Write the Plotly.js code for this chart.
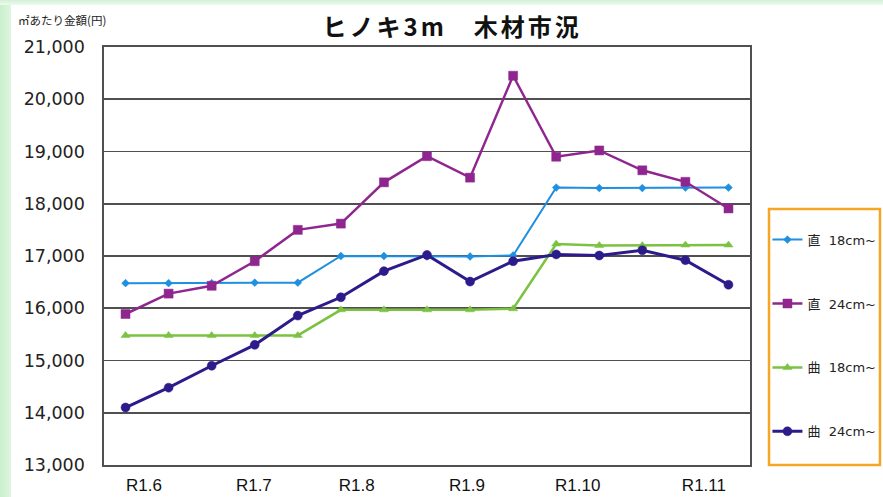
<!DOCTYPE html>
<html>
<head>
<meta charset="utf-8">
<script src="https://cdn.plot.ly/plotly-3.0.1.min.js"></script>
<style>
html,body{margin:0;padding:0;width:883px;height:497px;overflow:hidden;
background:linear-gradient(90deg,#c9efcc 0px,#dff5e0 11px,#ffffff 12px);}
#top{position:absolute;left:0;top:0;width:883px;height:5px;background:linear-gradient(180deg,#d3f1d5,#eefaee);}
#chart{position:absolute;left:11px;top:5px;width:872px;height:492px;}
.gtitle{letter-spacing:3px;}
</style>
</head>
<body>
<div id="top"></div>
<div id="chart"></div>
<script>
// point index (15 survey dates)
var pointIndex = [0,1,2,3,4,5,6,7,8,9,10,11,12,13,14];
// month tick labels and where they sit along the point index
var tickLabels = ['R1.6','R1.7','R1.8','R1.9','R1.10','R1.11'];
var tickIndex  = [0.43, 2.98, 5.37, 7.93, 10.50, 13.43];

var seriesNames = ['直\u00a0\u00a018cm~','直\u00a0\u00a024cm~','曲\u00a0\u00a018cm~','曲\u00a0\u00a024cm~'];
var choku18 = [16480,16480,16480,16490,16490,17000,17000,16990,16990,17010,18310,18300,18300,18310,18310];
var choku24 = [15890,16280,16430,16900,17500,17620,18410,18910,18500,20450,18900,19020,18640,18420,17910];
var kyoku18 = [15480,15480,15480,15480,15480,15970,15970,15970,15970,15990,17230,17200,17200,17210,17210];
var kyoku24 = [14100,14480,14900,15300,15860,16210,16710,17020,16510,16900,17030,17010,17110,16920,16450];

var yTicks = [13000,14000,15000,16000,17000,18000,19000,20000,21000];
var yTickText = ['13,000','14,000','15,000','16,000','17,000','18,000','19,000','20,000','21,000'];

var colors = ['#1f8fe0','#8f268f','#7cc242','#2c1b8a'];
var symbols = ['diamond','square','triangle-up','circle'];
var msizes = [6,9,8,9];
var lwidths = [2,2.5,2.5,3];
var allSeries = [choku18, choku24, kyoku18, kyoku24];

var traces = allSeries.map(function(vals, i){
  return {
    type:'scatter', mode:'lines+markers', x: pointIndex, y: vals,
    name: seriesNames[i], legendgroup: 'g'+i,
    line:{color:colors[i], width:lwidths[i]},
    marker:{symbol:symbols[i], size:msizes[i], color:colors[i],
            line:{color:colors[i], width:0.5}},
    hoverinfo:'skip'
  };
});

var layout = {
  width:872, height:492,
  margin:{l:93, r:133, t:42, b:32, autoexpand:false},
  paper_bgcolor:'#ffffff', plot_bgcolor:'#ffffff',
  showlegend:true,
  title:{text:'<b>ヒノキ3m\u3000木材市況</b>', x:0.506, xanchor:'center', y:0.955, yanchor:'middle',
         font:{family:'Noto Sans CJK JP', size:24, color:'#111111'}},
  xaxis:{range:[-0.5,14.5], tickmode:'array', tickvals:tickIndex, ticktext:tickLabels,
         showgrid:false, zeroline:false, showline:true, mirror:true,
         linecolor:'#505050', linewidth:1.6, ticks:'', ticklabelstandoff:4,
         tickfont:{family:'Liberation Sans, Arial', size:17, color:'#111111'}},
  yaxis:{range:[13000,21000], tickmode:'array', tickvals:yTicks, ticktext:yTickText,
         showgrid:true, gridcolor:'#505050', gridwidth:1.6, zeroline:false,
         showline:true, mirror:true, linecolor:'#505050', linewidth:1.6,
         ticks:'', ticklabelstandoff:14,
         tickfont:{family:'DejaVu Sans', size:17.5, color:'#222222'}},
  legend:{x:1.027, xanchor:'left', y:0.575, yanchor:'top', bgcolor:'rgba(0,0,0,0)',
          borderwidth:0, tracegroupgap:44, itemwidth:30,
          font:{family:'DejaVu Sans, Noto Sans CJK JP', size:13, color:'#222222'}},
  shapes:[{type:'rect', xref:'paper', yref:'paper', x0:1.0294, x1:1.2012, y0:0, y1:0.6124,
           line:{color:'#f5a623', width:2.5}, fillcolor:'rgba(0,0,0,0)', layer:'below'}],
  annotations:[{text:'㎡あたり金額(円)', xref:'paper', yref:'paper', x:-0.136, y:1.04,
                xanchor:'left', yanchor:'bottom', showarrow:false,
                font:{family:'Noto Sans CJK JP', size:11.5, color:'#222222'}}]
};

Plotly.newPlot('chart', traces, layout, {displayModeBar:false, staticPlot:true});
</script>
</body>
</html>
